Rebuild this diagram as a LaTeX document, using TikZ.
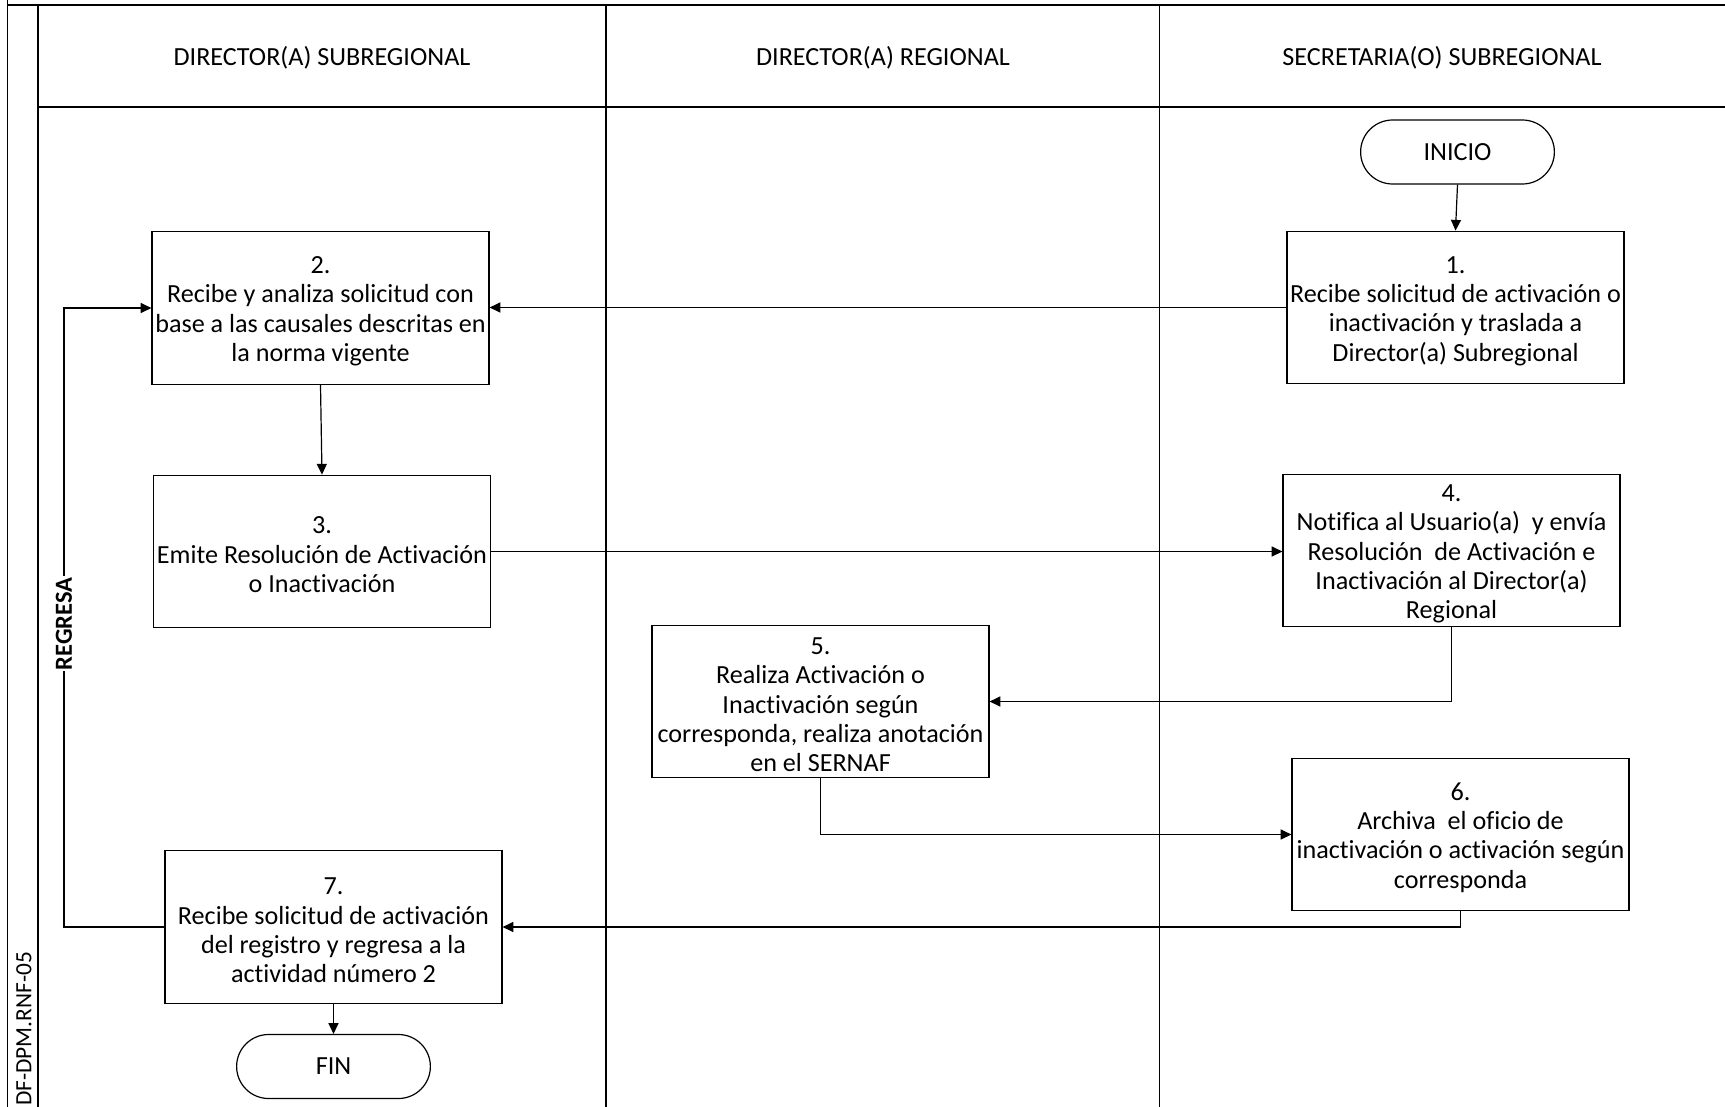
\documentclass[tikz,border=0pt]{standalone}
\usepackage{fontspec}
\setmainfont{Carlito}[Ligatures={NoCommon}]
\usetikzlibrary{arrows.meta,shapes.misc}
% taller first line so the step text sits slightly lower in its box
\newcommand{\firstlinestrut}{\rule{0pt}{17.8pt}}
\begin{document}
\begin{tikzpicture}[x=0.75pt,y=-0.75pt,
  every node/.style={font=\fontsize{19.6pt}{22pt}\selectfont},
  lane/.style={line width=1pt},
  box/.style={draw,line width=0.9pt,rectangle,align=center,inner sep=1pt,
    minimum width=252.75pt,minimum height=114.5pt},
  term/.style={draw,line width=0.9pt,rounded rectangle,align=center,
    minimum width=152pt,minimum height=48pt},
  arr/.style={line width=0.9pt,-{Triangle[length=8pt,width=7.5pt]}}]
\clip (0,0) rectangle (1725,1107);
\fill[white] (0,0) rectangle (1725,1107);

% swimlane frame
\draw[line width=1.3pt] (7.5,0) -- (7.5,1107);
\draw[lane] (7.5,5) -- (1725,5);
\draw[lane] (38,5) -- (38,1107);
\draw[lane] (38,107) -- (1725,107);
\draw[lane] (606,5) -- (606,1107);
\draw[lane] (1159.5,5) -- (1159.5,1107);

% lane headers
\node (h1) at (322,58) {DIRECTOR(A) SUBREGIONAL};
\node (h2) at (883,58) {DIRECTOR(A) REGIONAL};
\node (h3) at (1442,58) {SECRETARIA(O) SUBREGIONAL};

% document code
\node[rotate=90,anchor=west,inner sep=0pt,font=\fontsize{17.5pt}{22pt}\selectfont] (code) at (24,1106) {DF-DPM.RNF-05};

% process steps
\node[term] (inicio) at (1457.5,152) {INICIO};
\node[box] (b1) at (1455.5,307.5) {\firstlinestrut 1.\\Recibe solicitud de activación o\\inactivación y traslada a\\Director(a) Subregional};
\node[box] (b2) at (320.5,308) {\firstlinestrut 2.\\Recibe y analiza solicitud con\\base a las causales descritas en\\la norma vigente};
\node[box] (b3) at (322,551.5) {\firstlinestrut 3.\\Emite Resolución de Activación\\o Inactivación};
\node[box] (b4) at (1451.5,550.5) {\firstlinestrut 4.\\Notifica al Usuario(a)\ \ y envía\\Resolución\ \ de Activación e\\Inactivación al Director(a)\\Regional};
\node[box] (b5) at (820.5,701.5) {\firstlinestrut 5.\\Realiza Activación o\\Inactivación según\\corresponda, realiza anotación\\en el SERNAF};
\node[box] (b6) at (1460.5,834.5) {\firstlinestrut 6.\\Archiva\ \ el oficio de\\inactivación o activación según\\corresponda};
\node[box] (b7) at (333.5,927) {\firstlinestrut 7.\\Recibe solicitud de activación\\del registro y regresa a la\\actividad número 2};
\node[term] (fin) at (333.5,1066.5) {FIN};

% connectors
\draw[arr] (inicio.south) -- (b1.north);
\draw[arr] (b1.west) -- (b1.west -| b2.east);
\draw[arr] (b2.south) -- (b3.north);
\draw[arr] (b3.east) -- (b3.east -| b4.west);
\draw[arr] (b4.south) |- (b5.east);
\draw[arr] (b5.south) |- (b6.west);
\draw[arr] (b6.south) |- (b7.east);
\draw[arr] (b7.south) -- (fin.north);
\coordinate (ret) at (64,927);
\draw[arr] (b7.west) -- (ret) -- node[pos=0.49,rotate=90,fill=white,inner sep=1pt,font=\fontsize{18.4pt}{22pt}\selectfont\bfseries] {REGRESA} (ret |- b2.west) -- (b2.west);
\end{tikzpicture}
\end{document}
